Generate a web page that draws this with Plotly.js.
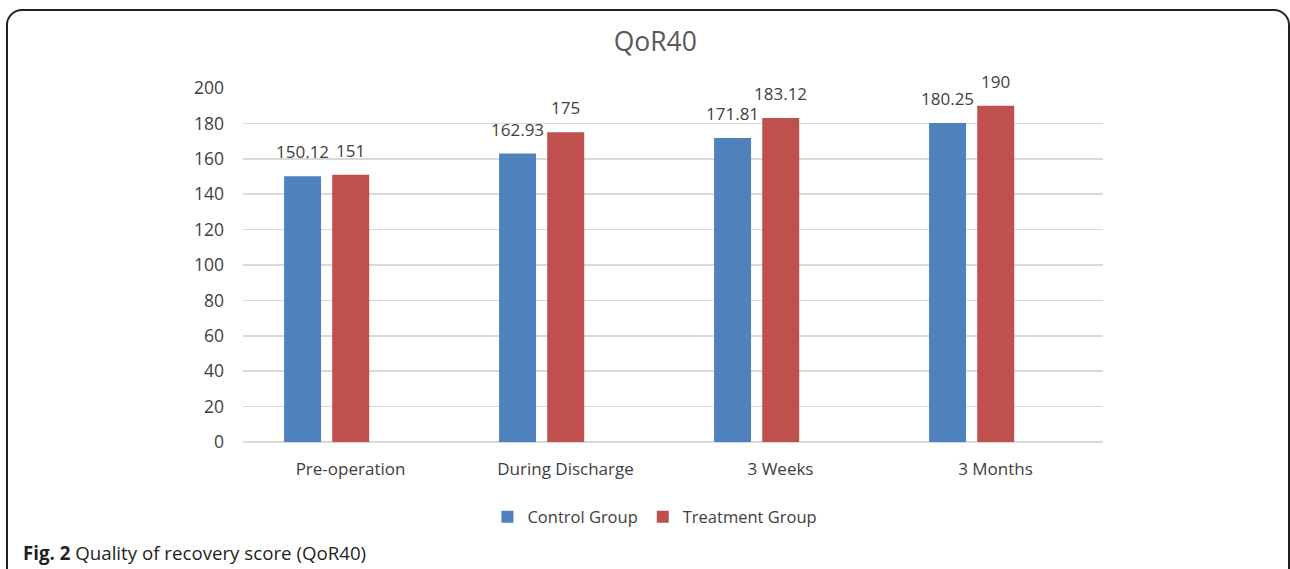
<!DOCTYPE html>
<html>
<head>
<meta charset="utf-8">
<script src="https://cdn.plot.ly/plotly-3.0.1.min.js"></script>
<style>
html,body{margin:0;padding:0;background:#fff;width:1290px;height:569px;overflow:hidden;}
#frame{position:absolute;left:6px;top:9px;width:1284px;height:640px;border:2px solid #231f20;border-radius:16px;box-sizing:border-box;pointer-events:none;z-index:5;}
#chart{position:absolute;left:0;top:0;width:1290px;height:569px;}
</style>
</head>
<body>
<div id="chart"></div>
<div id="frame"></div>
<script>
const categories = ["Pre-operation", "During Discharge", "3 Weeks", "3 Months"];
const controlValues = [150.12, 162.93, 171.81, 180.25];
const treatmentValues = [151, 175, 183.12, 190];
const controlLabels = ["150.12", "162.93", "171.81", "180.25"];
const treatmentLabels = ["151", "175", "183.12", "190"];
const yTicks = [0, 20, 40, 60, 80, 100, 120, 140, 160, 180, 200];

const barWidth = 0.172;
const controlOffset = -0.309;
const treatmentOffset = -0.085;
const labelFont = {family: "Open Sans, sans-serif", size: 17, color: "#404040"};

const traces = [
  {
    type: "bar", name: "Control Group", x: categories, y: controlValues,
    marker: {color: "#4F81BD"},
    width: barWidth, offset: controlOffset,
    hoverinfo: "x+y"
  },
  {
    type: "bar", name: "Treatment Group", x: categories, y: treatmentValues,
    marker: {color: "#C0504D"},
    width: barWidth, offset: treatmentOffset,
    hoverinfo: "x+y"
  }
];

const annotations = [];
categories.forEach((c, i) => {
  annotations.push({
    x: i + controlOffset + barWidth / 2, y: controlValues[i],
    xref: "x", yref: "y", text: controlLabels[i],
    showarrow: false, xanchor: "center", yanchor: "bottom", yshift: 11,
    font: labelFont
  });
  annotations.push({
    x: i + treatmentOffset + barWidth / 2, y: treatmentValues[i],
    xref: "x", yref: "y", text: treatmentLabels[i],
    showarrow: false, xanchor: "center", yanchor: "bottom", yshift: 11,
    font: labelFont
  });
});
annotations.push({
  text: "<b>Fig. 2</b> Quality of recovery score (QoR40)",
  xref: "paper", yref: "paper",
  x: (21 - 243) / 860, y: (442 - 552) / 354,
  xanchor: "left", yanchor: "middle",
  showarrow: false,
  font: {family: "Open Sans, sans-serif", size: 18.7, color: "#231f20"}
});

const layout = {
  width: 1290, height: 569,
  margin: {l: 243, r: 187, t: 88, b: 127},
  paper_bgcolor: "#ffffff", plot_bgcolor: "#ffffff",
  showlegend: true,
  title: {
    text: "QoR40",
    font: {family: "Open Sans, sans-serif", size: 26.5, color: "#595959"},
    x: 0.508, xref: "container", xanchor: "center",
    y: 0.926, yref: "container", yanchor: "middle"
  },
  xaxis: {
    type: "category",
    range: [-0.5, 3.5],
    tickfont: {family: "Open Sans, sans-serif", size: 17, color: "#404040"},
    showgrid: false, showline: false, ticks: "",
    ticklabelstandoff: 15,
    fixedrange: true
  },
  yaxis: {
    range: [0, 200],
    tickvals: yTicks,
    tickfont: {family: "Open Sans, sans-serif", size: 17.5, color: "#404040"},
    gridcolor: "#d9d9d9", gridwidth: 1.5,
    zeroline: true, zerolinecolor: "#d9d9d9", zerolinewidth: 1.5,
    showline: false, ticks: "",
    ticklabelstandoff: 18,
    fixedrange: true
  },
  legend: {
    orientation: "h",
    x: 0.479, xanchor: "center",
    y: -0.212, yanchor: "middle",
    font: {family: "Open Sans, sans-serif", size: 16.5, color: "#404040"},
    itemwidth: 30,
    traceorder: "normal"
  },
  annotations: annotations
};

Plotly.newPlot("chart", traces, layout, {displayModeBar: false, staticPlot: true});
</script>
</body>
</html>
